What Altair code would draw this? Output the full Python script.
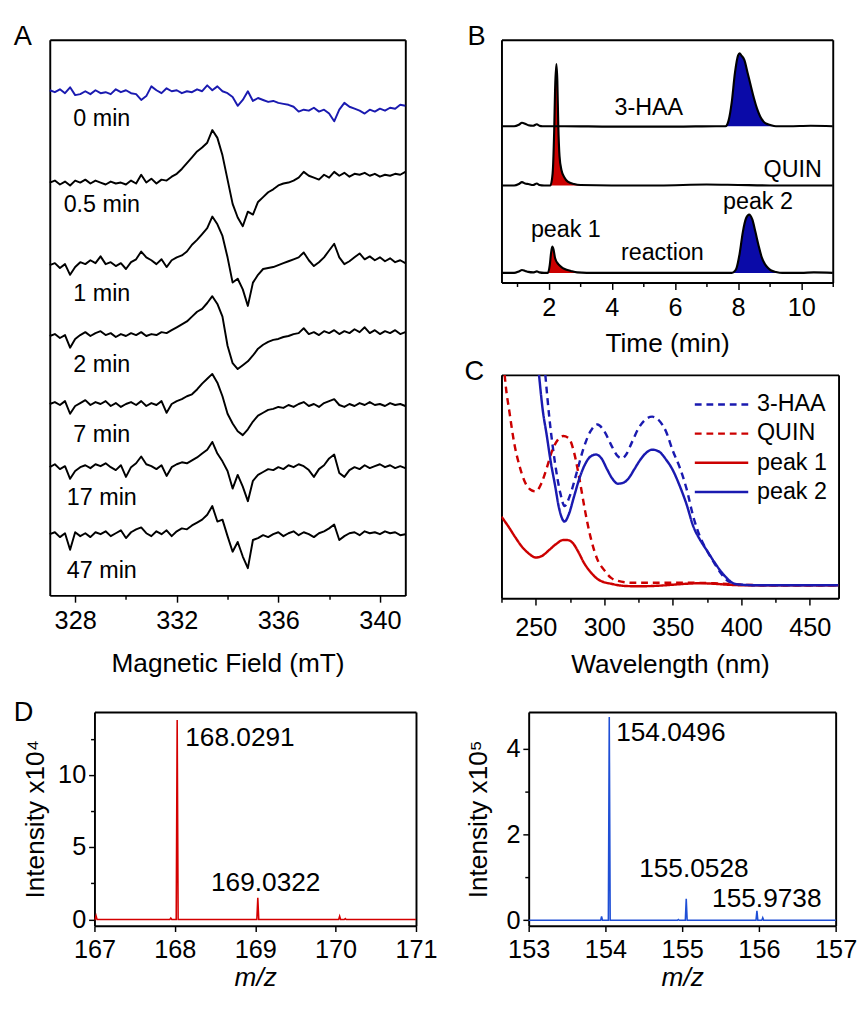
import altair as alt
import numpy as np
import pandas as pd

FONT = "Liberation Sans"
BLUE = "#1a1ab0"
RED = "#cc0000"
FILL_BLUE = "#0a0aa8"
MS_RED = "#d40000"
MS_BLUE = "#1f4fd6"

# ---------------- Panel A : EPR spectra ----------------
epr_field = np.round(np.arange(327.0, 341.0001, 0.2), 1).tolist()
epr_names = ["0 min", "0.5 min", "1 min", "2 min", "7 min", "17 min", "47 min"]
epr_offsets = [520, 425, 340, 267, 197, 132, 63]
epr_label_y = [490, 402, 310, 237, 165, 100, 25]
epr_label_x = 329.05
epr_0 = [0, -2, 1, -3, 3, -5, -4, -1, -4, 0,
         -3, -2, -4, 1, -2, 0, -3, -4, -10, -6,
         4, 0, -3, 2, -1, 0, -3, -1, -2, 1,
         -1, 5, 0, 4, -1, -3, -7, -16, -10, -1,
         -11, -8, -10, -12, -11, -13, -14, -15, -17, -22,
         -20, -21, -18, -22, -20, -24, -32, -20, -13, -17,
         -19, -21, -24, -20, -22, -19, -21, -18, -19, -15,
         -16]
epr_05 = [0, 2, -2, 1, -3, 2, 0, 3, -1, 2,
          0, -2, 1, -1, 0, -2, 2, -1, 8, 0,
          4, -1, 3, 2, 6, 9, 14, 20, 26, 32,
          36, 41, 54, 46, 28, 3, -22, -36, -45, -30,
          -33, -20, -15, -10, -7, -3, -1, 0, 2, 5,
          11, 7, 5, 3, 8, 5, 11, 7, 10, 6,
          9, 8, 10, 7, 9, 6, 8, 7, 9, 8,
          11]
epr_1 = [0, 2, -3, 1, -10, -2, 3, 1, 5, 2,
         9, 1, 3, -1, 2, -4, 3, 6, 14, 8,
         5, 1, 6, -2, 5, 8, 10, 14, 21, 26,
         32, 38, 50, 42, 30, 8, -18, -14, -25, -42,
         -18, -10, -4, -3, -2, 0, 2, 4, 6, 8,
         13, 5, -1, 3, 8, 15, 22, 8, 1, 4,
         8, 12, 6, 9, 5, 8, 4, 7, 3, 5,
         2]
epr_2 = [0, 2, -2, 1, -12, -3, 1, 4, 0, 3,
         5, 1, 3, -1, 2, 0, 3, 1, 4, 0,
         2, 1, 4, 3, 6, 9, 12, 15, 20, 25,
         28, 34, 41, 33, 20, -10, -28, -34, -30, -26,
         -20, -13, -9, -6, -4, -3, -1, 0, 2, 3,
         8, 2, 4, 1, 5, 3, 6, 2, 5, 3,
         7, 4, 9, 3, 6, 2, 5, 3, 6, 2,
         4]
epr_7 = [0, 2, -1, 3, -10, -2, 1, 4, -1, 2,
         0, 3, -2, 1, -3, 0, 2, -1, 3, -2,
         1, -1, 3, -9, 0, 3, 5, 8, 10, 15,
         21, 26, 31, 22, 8, -10, -20, -28, -32, -26,
         -18, -12, -9, -6, -5, -3, -4, -1, -3, 0,
         2, -2, 0, -3, 1, 3, 5, -1, -3, 0,
         -2, 1, -1, 2, -1, 0, -2, 1, -1, 0,
         -2]
epr_17 = [0, 3, -2, 1, -12, -4, 0, 2, -1, 3,
          1, 4, 0, -3, 2, -10, 0, 4, 11, 3,
          1, -2, 2, -9, 0, 3, 5, 4, 7, 10,
          14, 18, 26, 14, 6, -4, -22, -8, -20, -35,
          -14, -8, -5, -2, -3, 0, -2, 2, 0, 3,
          1, -3, -10, -2, 2, 9, 13, -6, -10, -3,
          0, -2, 2, -1, 1, 3, 0, 2, -1, 1,
          -1]
epr_47 = [0, 2, -3, 1, -16, 2, -2, 1, -3, 2,
          0, 3, -2, 1, 4, -4, 2, 5, 7, 1,
          -2, 3, 0, 4, -2, 3, 6, 5, 9, 12,
          15, 20, 29, 13, 15, -2, -18, -8, -23, -35,
          -6, -4, -1, -3, 0, 2, -2, 1, 3, -1,
          2, 0, -3, 1, 3, 6, 10, -6, -2, 1,
          2, -1, 3, 1, 2, 0, 3, 1, 2, -1,
          0]
epr_traces = [epr_0, epr_05, epr_1, epr_2, epr_7, epr_17, epr_47]

# ---------------- Panel B : HPLC ----------------
hplc_names = ["3-HAA", "QUIN", "reaction"]
hplc_offsets = [161, 100, 10]
hplc_t = {
    "3-HAA": [0.5, 0.9, 1.05, 1.15, 1.25, 1.35, 1.5, 1.62, 1.7, 1.8, 2.5, 4, 6, 7.3, 7.6, 7.7, 7.8,
              7.9, 8.0, 8.05, 8.1, 8.2, 8.3, 8.4, 8.5, 8.6, 8.7, 8.8, 8.9, 9.0, 9.2, 9.6, 10.3, 11],
    "QUIN": [0.5, 0.9, 1.05, 1.15, 1.25, 1.35, 1.5, 1.62, 1.7, 1.85, 2.05, 2.12, 2.17, 2.2, 2.24,
             2.27, 2.3, 2.34, 2.4, 2.5, 2.6, 2.8, 3.0, 4, 5.5, 7, 8, 9, 10, 11],
    "reaction": [0.5, 0.9, 1.05, 1.15, 1.25, 1.35, 1.5, 1.62, 1.7, 1.85, 1.97, 2.03, 2.07, 2.11,
                 2.15, 2.2, 2.3, 2.4, 2.5, 2.7, 2.9, 3.2, 5, 7, 7.8, 7.9, 7.95, 8.05, 8.15, 8.25,
                 8.35, 8.45, 8.55, 8.65, 8.75, 8.85, 8.95, 9.05, 9.2, 9.4, 10, 10.4, 11],
}
hplc_y = {
    "3-HAA": [0, 0, 1.5, 3.5, 2.5, 1, 0.5, 2, 0.5, 0, 0, -0.5, -0.5, 0, 0, 6, 25,
              55, 73, 75, 73, 68, 55, 42, 29, 18, 10, 5, 2.5, 1.5, 0, 0, 0.5, 0],
    "QUIN": [0, 0, 1.5, 3.5, 2, 1.5, 0.5, 2, 0.5, 0, 0, 12, 55, 100, 125,
             108, 62, 30, 16, 8, 4, 1.5, 0.5, 0, 0, 1, 0.5, 0, 0, 0],
    "reaction": [0, 0, 1.5, 3, 2, 1, 0.5, 1.5, 0.5, 0, 0, 8, 20, 27,
                 24, 15, 9, 6, 4, 2, 0.5, 0, 0, 0, 0, 2, 5, 20, 42, 56,
                 60, 55, 42, 28, 16, 9, 5, 2.5, 1, 0, 0, 0.5, 0],
}
# (trace, start, end, compound whose colour is used)
hplc_fills = [("3-HAA", 7.6, 9.2, "3-HAA"), ("QUIN", 2.05, 3.0, "QUIN"),
              ("reaction", 1.97, 2.9, "QUIN"), ("reaction", 7.8, 9.4, "3-HAA")]
hplc_labels = ["3-HAA", "QUIN", "peak 2", "peak 1", "reaction"]
hplc_label_t = [5.17, 9.73, 8.63, 2.54, 5.6]
hplc_label_y = [180, 116, 83, 54, 30]

# ---------------- Panel C : UV-vis (curves end where they leave the top of the frame) ----
uv_names = ["3-HAA", "QUIN", "peak 1", "peak 2"]
uv_wl = {
    "3-HAA": [257, 260, 264, 268, 271, 275, 280, 285, 290, 295, 300, 305, 310, 313, 316, 320,
              325, 330, 335, 340, 345, 350, 355, 360, 365, 370, 375, 380, 385, 390, 395, 400, 410,
              420, 440, 471],
    "QUIN": [227.3, 228, 231, 234, 238, 242, 246, 250, 254, 258, 262, 266, 270, 274, 278, 282, 286,
             290, 295, 300, 305, 310, 320, 340, 360, 380, 400, 420, 471],
    "peak 1": [225, 230, 235, 240, 245, 250, 255, 260, 265, 270, 273, 277, 281, 285, 290, 295, 300,
               305, 310, 320, 330, 340, 350, 360, 370, 380, 390, 400, 471],
    "peak 2": [252.4, 255, 258, 261, 264, 267, 271, 274, 278, 282, 286, 290, 294, 298, 302, 306,
               310, 314, 318, 322, 326, 330, 335, 340, 345, 350, 355, 360, 365, 370, 375, 380, 385,
               390, 395, 400, 410, 471],
}
uv_abs = {
    "3-HAA": [230, 185, 140, 108, 95, 106, 130, 155, 172, 179, 172, 158, 146, 144, 148, 160,
              175, 184, 187, 183, 172, 152, 135, 113, 84, 63, 49, 37, 26, 18, 15, 14, 13.5,
              13.5, 13.5, 13.5],
    "QUIN": [230, 220, 190, 162, 137, 120, 112, 110, 118, 134, 152, 163, 167, 165, 150, 122, 90,
             63, 40, 29, 21, 18, 16, 16, 16, 15.5, 14, 13.5, 13.5],
    "peak 1": [84, 74, 63, 53, 46, 42, 44, 50, 56, 60, 60, 57, 48, 37, 27, 20, 16.5,
               15, 13.5, 12.5, 12.5, 13, 14, 15, 15.5, 15, 14, 13.5, 13.5],
    "peak 2": [230, 195, 168, 140, 117, 93, 79, 86, 105, 124, 138, 146, 148, 144, 133, 123,
               118, 119, 124, 133, 142, 149, 153, 151, 143, 132, 116, 97, 74, 60, 49, 38, 28,
               20, 15, 14, 13.5, 13.5],
}

# ---------------- Panel D : HRMS ----------------
ms1_mz = [167.02, 167.95, 168.029, 169.032, 170.05, 170.12]
ms1_int = [0.25, 0.1, 13.8, 1.5, 0.22, 0.06]
ms1_labels = ["168.0291", "169.0322"]
ms1_label_mz = [168.13, 168.45]
ms1_label_int = [12.52, 2.52]
ms2_mz = [153.95, 154.05, 154.95, 155.053, 155.974, 156.05]
ms2_int = [0.09, 4.73, 0.02, 0.5, 0.22, 0.06]
ms2_labels = ["154.0496", "155.0528", "155.9738"]
ms2_label_mz = [154.14, 154.44, 155.39]
ms2_label_int = [4.36, 1.2, 0.5]

# ======================= build tables =======================
rows = []
for name, off, vals in zip(epr_names, epr_offsets, epr_traces):
    for f, v in zip(epr_field, vals):
        rows.append({"field": f, "y": off + v, "trace": name})
df_a = pd.DataFrame(rows)
df_a_lab = pd.DataFrame({"field": [epr_label_x] * len(epr_names), "y": epr_label_y, "label": epr_names})

rows = []
for name, off in zip(hplc_names, hplc_offsets):
    for t, v in zip(hplc_t[name], hplc_y[name]):
        rows.append({"t": t, "y": off + v, "trace": name})
df_b = pd.DataFrame(rows)
rows = []
for k, (name, a, b, kind) in enumerate(hplc_fills):
    off = hplc_offsets[hplc_names.index(name)]
    for t, v in zip(hplc_t[name], hplc_y[name]):
        if a <= t <= b:
            rows.append({"t": t, "y": off + v, "y0": off, "seg": k, "kind": kind})
df_b_fill = pd.DataFrame(rows)
df_b_lab = pd.DataFrame({"t": hplc_label_t, "y": hplc_label_y, "label": hplc_labels})

rows = []
for name in uv_names:
    for w, v in zip(uv_wl[name], uv_abs[name]):
        rows.append({"wl": w, "val": v, "series": name})
df_c = pd.DataFrame(rows)


def stick_table(mz, inten, lo, hi, w=0.012):
    pts = [(lo, 0.0)]
    for m, h in zip(mz, inten):
        pts += [(m - w, 0.0), (m, h), (m + w, 0.0)]
    pts.append((hi, 0.0))
    return pd.DataFrame(pts, columns=["mz", "inten"])


df_d1 = stick_table(ms1_mz, ms1_int, 167, 171)
df_d2 = stick_table(ms2_mz, ms2_int, 153, 157)
df_d1_lab = pd.DataFrame({"mz": ms1_label_mz, "inten": ms1_label_int, "label": ms1_labels})
df_d2_lab = pd.DataFrame({"mz": ms2_label_mz, "inten": ms2_label_int, "label": ms2_labels})

# ======================= helpers =======================
AX = dict(grid=False, domain=True, domainColor="black", domainWidth=2, labelFont=FONT, titleFont=FONT,
          labelFontSize=26, titleFontSize=27, labelColor="black", titleColor="black", tickColor="black",
          tickWidth=1.5, titleFontWeight="normal", labelFlush=False, labelOverlap=False, minExtent=0)
FRAME_AX = dict(grid=False, domain=True, domainColor="black", domainWidth=2, ticks=False,
                labels=False, title=None, minExtent=0, maxExtent=0)
BLANK_Y = alt.Axis(grid=False, domain=True, domainColor="black", domainWidth=2, ticks=False,
                   labels=False, title=None, minExtent=0, maxExtent=0)


def cond_tick(test, major, minor):
    return {"condition": {"test": test, "value": major}, "value": minor}


def letter(txt, dx, dy):
    return alt.Chart(pd.DataFrame({"letter": [txt]})).mark_text(
        font=FONT, fontSize=28, align="left", baseline="alphabetic", color="black"
    ).encode(text="letter:N", x=alt.value(dx), y=alt.value(dy))


def framed(inner, df, xfield, yfield, xscale, yscale):
    """Add top/right domain lines so each panel is boxed."""
    box = alt.Chart(df).mark_point(opacity=0).encode(
        x=alt.X(xfield, scale=xscale, axis=alt.Axis(orient="top", **FRAME_AX)),
        y=alt.Y(yfield, scale=yscale, axis=alt.Axis(orient="right", **FRAME_AX)))
    return alt.layer(inner, box).resolve_axis(x="independent", y="independent")


# ---------------- A ----------------
sxa = alt.Scale(domain=[327, 341], nice=False, zero=False)
sya = alt.Scale(domain=[0, 572], nice=False, zero=False)
xa = alt.X("field:Q", scale=sxa,
           axis=alt.Axis(values=[328, 330, 332, 334, 336, 338, 340],
                         labelExpr="datum.value % 4 === 0 ? datum.label : ''",
                         tickSize=cond_tick("datum.value % 4 === 0", 7, 4),
                         labelPadding=6, titlePadding=18, title="Magnetic Field (mT)", **AX))
ya = alt.Y("y:Q", scale=sya, axis=BLANK_Y)
a_blue = alt.Chart(df_a[df_a.trace == epr_names[0]]).mark_line(
    strokeWidth=2, strokeJoin="round", color=BLUE).encode(x=xa, y=ya)
a_black = alt.Chart(df_a[df_a.trace != epr_names[0]]).mark_line(
    strokeWidth=2, strokeJoin="round", color="black").encode(x=xa, y=ya, detail="trace:N")
a_text = alt.Chart(df_a_lab).mark_text(font=FONT, fontSize=24, align="center", baseline="middle",
                                      color="black").encode(x=xa, y=ya, text="label:N")
panel_a = framed(alt.layer(a_blue, a_black, a_text, letter("A", -37, 5)), df_a_lab, "field:Q", "y:Q",
                 sxa, sya).properties(width=366, height=572)

# ---------------- B ----------------
sxb = alt.Scale(domain=[0.5, 11], nice=False, zero=False)
syb = alt.Scale(domain=[0, 250], nice=False, zero=False)
xb = alt.X("t:Q", scale=sxb,
           axis=alt.Axis(values=list(range(1, 12)),
                         labelExpr="datum.value % 2 === 0 ? datum.label : ''",
                         tickSize=cond_tick("datum.value % 2 === 0", 7, 4),
                         labelPadding=6, titlePadding=11, title="Time (min)", **AX))
yb = alt.Y("y:Q", scale=syb, axis=BLANK_Y)
b_red = alt.Chart(df_b_fill[df_b_fill.kind == "QUIN"]).mark_area(
    interpolate="monotone", opacity=1, color=RED).encode(x=xb, y=yb, y2="y0:Q", detail="seg:N")
b_blue = alt.Chart(df_b_fill[df_b_fill.kind == "3-HAA"]).mark_area(
    interpolate="monotone", opacity=1, color=FILL_BLUE).encode(x=xb, y=yb, y2="y0:Q", detail="seg:N")
b_line = alt.Chart(df_b).mark_line(color="black", strokeWidth=2.2, interpolate="monotone").encode(
    x=xb, y=yb, detail="trace:N")
b_text = alt.Chart(df_b_lab).mark_text(font=FONT, fontSize=24, align="center", baseline="middle",
                                      color="black").encode(x=xb, y=yb, text="label:N")
panel_b = framed(alt.layer(b_red, b_blue, b_line, b_text, letter("B", -35, 5)), df_b_lab, "t:Q", "y:Q",
                 sxb, syb).properties(width=341, height=250)

# ---------------- C ----------------
sxc = alt.Scale(domain=[225, 471], nice=False, zero=False)
syc = alt.Scale(domain=[0, 230], nice=False, zero=False)
xc = alt.X("wl:Q", scale=sxc,
           axis=alt.Axis(values=[225, 250, 275, 300, 325, 350, 375, 400, 425, 450],
                         labelExpr="datum.value % 50 === 0 ? datum.label : ''",
                         tickSize=cond_tick("datum.value % 50 === 0", 7, 4),
                         labelPadding=10, titlePadding=12, title="Wavelength (nm)", **AX))
yc = alt.Y("val:Q", scale=syc, axis=BLANK_Y)
leg = alt.Legend(orient="top-right", title=" ", titleFontSize=7, titlePadding=0, labelFont=FONT,
                 labelFontSize=24, labelColor="black",
                 symbolType="M-2.5,0L2.5,0", symbolSize=484, symbolStrokeWidth=2.5, rowPadding=5,
                 labelOffset=24, offset=8, padding=3)
c_line = alt.Chart(df_c).mark_line(strokeWidth=2.5, clip=True, interpolate="monotone").encode(
    x=xc, y=yc,
    color=alt.Color("series:N", scale=alt.Scale(domain=uv_names, range=[BLUE, RED, RED, BLUE]), legend=leg),
    strokeDash=alt.StrokeDash("series:N", scale=alt.Scale(domain=uv_names, range=[[7, 5], [7, 5], [1, 0], [1, 0]]),
                              legend=leg))
panel_c = framed(alt.layer(c_line, letter("C", -38, 5)), df_c, "wl:Q", "val:Q", sxc, syc).properties(
    width=347, height=230)


# ---------------- D ----------------
def ms_panel(df, df_lab, lo, hi, ydom, yvals, ytest, title, colour, tpad, width, let=None):
    sx = alt.Scale(domain=[lo, hi], nice=False, zero=False)
    sy = alt.Scale(domain=ydom, nice=False, zero=False)
    x = alt.X("mz:Q", scale=sx,
              axis=alt.Axis(values=list(range(lo, hi + 1)), tickSize=6, labelPadding=6, titlePadding=3,
                            title="m/z", titleFontStyle="italic", **AX))
    y = alt.Y("inten:Q", scale=sy,
              axis=alt.Axis(values=yvals, labelExpr=f"{ytest} ? datum.label : ''",
                            tickSize=cond_tick(ytest, 6, 4), labelPadding=3, titlePadding=tpad,
                            title=title, **AX))
    line = alt.Chart(df).mark_line(color=colour, strokeWidth=1.6).encode(x=x, y=y)
    text = alt.Chart(df_lab).mark_text(font=FONT, fontSize=27, align="left", baseline="middle",
                                       color="black").encode(x=x, y=y, text="label:N")
    layers = [line, text]
    if let:
        layers.append(letter(let, -83, 9))
    return framed(alt.layer(*layers), df_lab, "mz:Q", "inten:Q", sx, sy).properties(width=width, height=220)


panel_d1 = ms_panel(df_d1, df_d1_lab, 167, 171, [-0.43, 14.36], [0, 2.5, 5, 7.5, 10, 12.5],
                    "datum.value % 5 === 0", "Intensity x10⁴", MS_RED, 9, 331, let="D")
panel_d2 = ms_panel(df_d2, df_d2_lab, 153, 157, [-0.125, 4.85], [0, 1, 2, 3, 4],
                    "datum.value % 2 === 0", "Intensity x10⁵", MS_BLUE, 14, 316)

# an empty strip that sets how far the D row is indented relative to panel A
spacer = alt.Chart(pd.DataFrame({"v": [0]})).mark_point(opacity=0).encode(
    x=alt.X("v:Q", axis=None), y=alt.Y("v:Q", axis=None)
).properties(width=46, height=220, view=alt.ViewBackground(stroke="transparent"))


def indep(c):
    return c.resolve_scale(color="independent", strokeDash="independent").resolve_legend(
        color="independent", strokeDash="independent")


right_col = indep(alt.vconcat(panel_b, panel_c, spacing=0))
top = indep(alt.hconcat(panel_a, right_col, spacing=58))
d_pair = indep(alt.hconcat(panel_d1, panel_d2, spacing=27))
bottom = indep(alt.hconcat(spacer, d_pair, spacing=0, bounds="flush"))
chart = indep(alt.vconcat(top, bottom, spacing=21)).properties(
    padding={"left": 5, "top": 0, "right": 0, "bottom": 0}
).configure(font=FONT, background="white").configure_view(stroke="transparent")

chart.save("out.html", embed_options={"renderer": "svg", "actions": False})
